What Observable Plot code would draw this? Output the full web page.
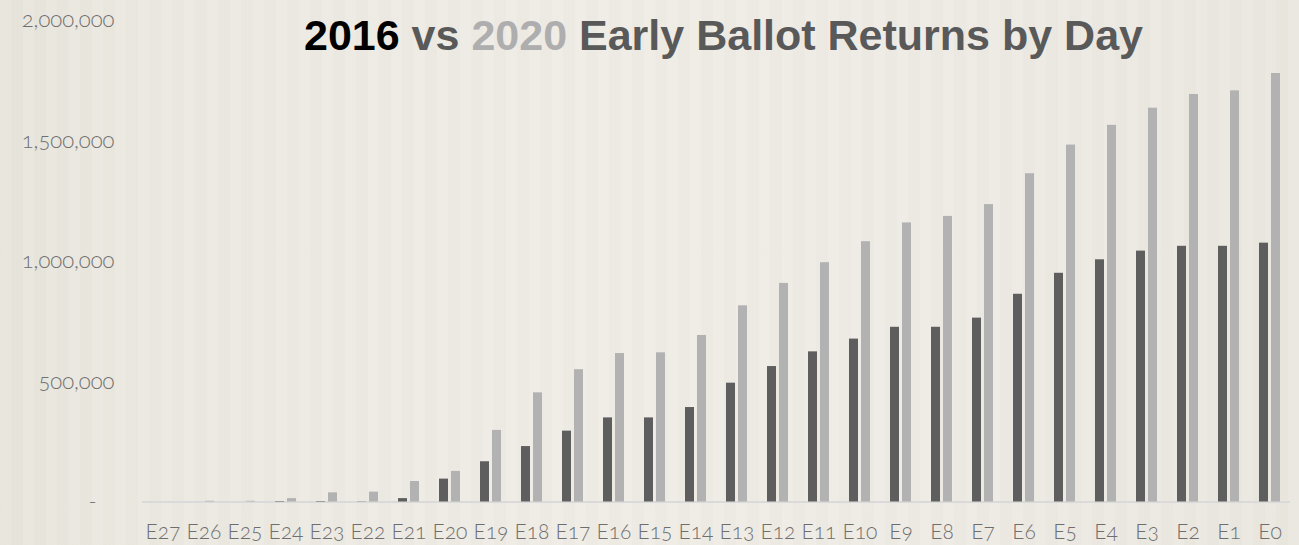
<!DOCTYPE html>
<html>
<head>
<meta charset="utf-8">
<script src="https://cdn.jsdelivr.net/npm/d3@7"></script>
<script src="https://cdn.jsdelivr.net/npm/@observablehq/plot@0.6"></script>
<style>
  html, body { margin: 0; padding: 0; width: 1299px; height: 545px; overflow: hidden; }
  body {
    background:
      repeating-linear-gradient(to right, rgba(255,255,255,0.06) 0px, rgba(255,255,255,0.06) 11px, rgba(0,0,0,0.006) 11px, rgba(0,0,0,0.006) 23px),
      linear-gradient(to right, #e7e4db 0%, #ebe8e0 8%, #efece6 45%, #eeebe5 70%, #eae7df 100%);
  }
  #wrap { position: relative; width: 1299px; height: 545px; }
  #title {
    position: absolute; left: 304px; top: 14px; margin: 0;
    font-family: "Liberation Sans", Arial, sans-serif; font-weight: bold;
    font-size: 43px; line-height: 43px; color: #595959; white-space: nowrap;
  }
  #title .y16 { color: #000000; }
  #title .y20 { color: #aeaeae; }
  svg text { font-variant-numeric: oldstyle-nums; font-feature-settings: "onum" 1; }
</style>
</head>
<body>
<div id="wrap">
  <div id="chart"></div>
  <div id="title"><span class="y16">2016</span> vs <span class="y20">2020</span> Early Ballot Returns by Day</div>
</div>
<script>
const days = ["E27","E26","E25","E24","E23","E22","E21","E20","E19","E18","E17","E16","E15","E14","E13","E12","E11","E10","E9","E8","E7","E6","E5","E4","E3","E2","E1","E0"];
const years = ["2016", "2020"];
const returns2016 = [0, 0, 0, 2000, 2000, 1000, 14000, 95000, 167000, 230000, 294000, 349000, 349000, 392000, 493000, 562000, 623000, 676000, 725000, 725000, 763000, 862000, 949000, 1005000, 1041000, 1061000, 1061000, 1074000];
const returns2020 = [0, 3000, 3000, 14000, 38000, 41000, 85000, 127000, 297000, 453000, 549000, 616000, 619000, 691000, 814000, 907000, 993000, 1080000, 1158000, 1185000, 1234000, 1362000, 1481000, 1563000, 1634000, 1691000, 1706000, 1778000];
const yTicks = [0, 500000, 1000000, 1500000, 2000000];

const data = days.flatMap((d, i) => [
  {day: d, year: years[0], value: returns2016[i]},
  {day: d, year: years[1], value: returns2020[i]}
]);

const fmt = d3.format(",");
const chart = Plot.plot({
  width: 1299,
  height: 545,
  marginLeft: 141,
  marginRight: 8,
  marginTop: 19.5,
  marginBottom: 43.5,
  style: {background: "transparent", fontFamily: "Lato, 'Open Sans', sans-serif", color: "#6e6e6e"},
  fx: {domain: days, padding: 0, label: null, axis: null},
  x: {domain: years, paddingInner: 0.25, paddingOuter: 0.833, axis: null},
  y: {domain: [0, 2000000], label: null, axis: null},
  color: {domain: years, range: ["#5e5e5e", "#b2b2b2"]},
  marks: [
    Plot.ruleY([0], {stroke: "#dadada", strokeWidth: 2}),
    Plot.barY(data, {fx: "day", x: "year", y: "value", fill: "year"}),
    Plot.axisY({ticks: yTicks, tickFormat: d => d === 0 ? "-\u00a0\u00a0\u00a0" : fmt(d), tickSize: 0, tickPadding: 28, fontSize: 22, fill: "#707070", fontWeight: 300, label: null}),
    Plot.axisFx({anchor: "bottom", tickSize: 0, tickPadding: 22, fontSize: 21, fill: "#6e6e6e", fontWeight: 300, label: null})
  ]
});
document.getElementById("chart").appendChild(chart);
</script>
</body>
</html>
